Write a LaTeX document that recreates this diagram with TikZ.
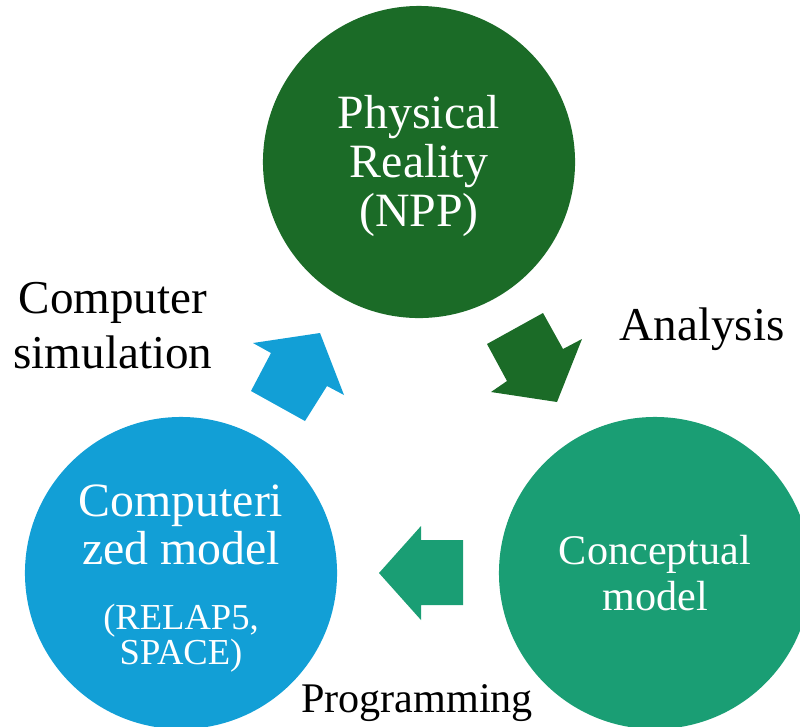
\documentclass[tikz,border=0pt]{standalone}
\usepackage{fontspec}
\setmainfont{Liberation Serif}

\definecolor{realgreen}{RGB}{27,107,39}
\definecolor{codeblue}{RGB}{18,159,214}
\definecolor{modelteal}{RGB}{26,158,116}

\begin{document}
\begin{tikzpicture}[x=0.025cm, y=-0.025cm]
        % Style definitions
        \tikzset{
            bubble/.style={circle, minimum size=7.8cm, inner sep=0pt},
            intext/.style={white, align=center, inner sep=0pt},
            outtext/.style={black, align=center, inner sep=0pt}
        }
        \useasboundingbox (0,0) rectangle (800,726);
        \clip (0,0) rectangle (800,726);

        % ==========================================
        % CIRCLES
        % ==========================================
        \node[bubble, fill=realgreen] (reality) at (419,162) {};
        \node[bubble, fill=codeblue] (compmodel) at (181,573) {};
        \node[bubble, fill=modelteal] (concept) at (655,573) {};

        % Texts inside the circles
        \node[intext, font=\fontsize{34}{34.5}\selectfont] (realitytext) at (419,166)
            {Physical\\Reality\\(NPP)};
        \node[intext, font=\fontsize{34}{34}\selectfont] (comptext) at (181,525)
            {Computeri\\zed model};
        \node[intext, font=\fontsize{26}{22.8}\selectfont] (codetext) at (181,638)
            {(RELAP5,\\SPACE)};
        \node[intext, font=\fontsize{30}{32.7}\selectfont] (concepttext) at (655,573)
            {Conceptual\\model};

        % ==========================================
        % BLOCK ARROWS
        % ==========================================
        % Computerized model -> Physical reality
        \fill[codeblue] (320,333) -- (344,395) -- (327,386) -- (305,421)
            -- (251,391) -- (271,353) -- (253,343) -- cycle;

        % Physical reality -> Conceptual model
        \fill[realgreen] (543,313) -- (563,349) -- (582,339) -- (557,402)
            -- (491,392) -- (507,381) -- (487,344) -- cycle;

        % Conceptual model -> Computerized model
        \fill[modelteal] (463,540) -- (421,540) -- (421,526) -- (379,573)
            -- (421,620) -- (421,605) -- (463,605) -- cycle;

        % ==========================================
        % ARROW LABELS
        % ==========================================
        \node[outtext, font=\fontsize{33.5}{39}\selectfont] (simlabel) at (113,326)
            {Computer\\simulation};
        \node[outtext, font=\fontsize{33.5}{39}\selectfont, anchor=base] (analysislabel)
            at (702,340) {Analysis};
        \node[outtext, font=\fontsize{30}{30}\selectfont, anchor=base] (proglabel)
            at (417,712) {Programming};

    \end{tikzpicture}
\end{document}
